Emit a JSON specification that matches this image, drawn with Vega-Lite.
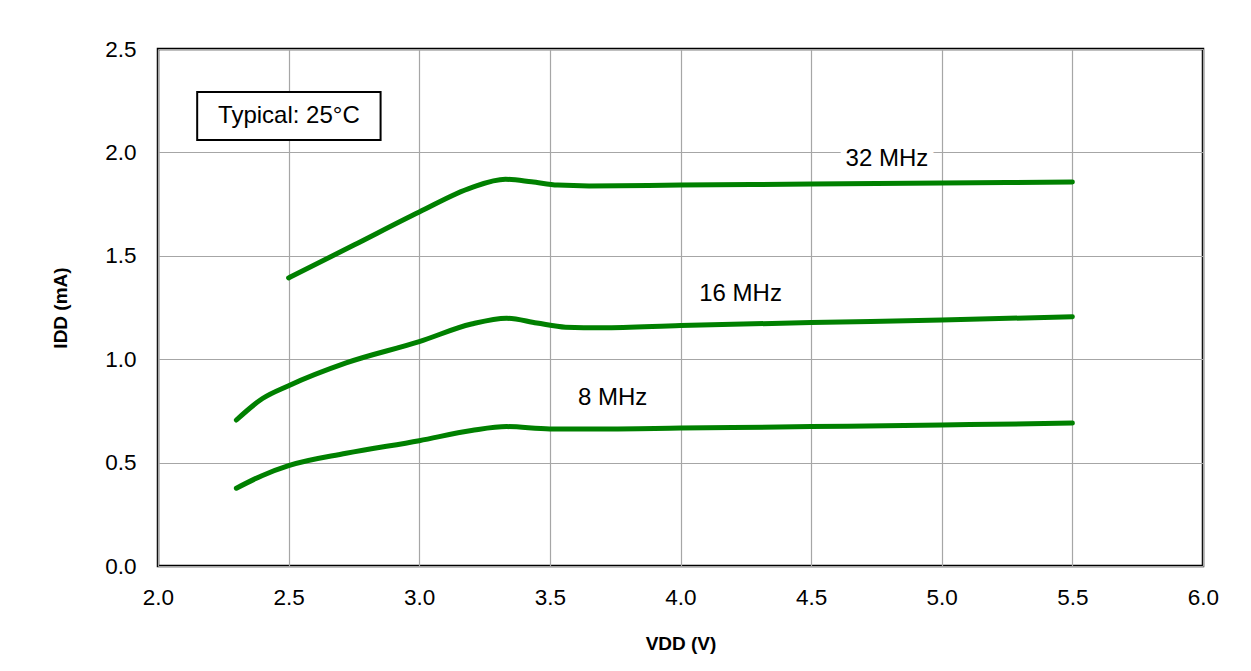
{
  "$schema": "https://vega.github.io/schema/vega-lite/v6.json",
  "width": 1045,
  "height": 517,
  "autosize": {"type": "none"},
  "padding": {"left": 158, "top": 49, "right": 48, "bottom": 105},
  "background": "white",
  "config": {
    "font": "Liberation Sans",
    "view": {"stroke": "black", "strokeWidth": 2.5},
    "axis": {
      "domain": false,
      "ticks": false,
      "grid": true,
      "gridColor": "#a6a6a6",
      "gridWidth": 1.2,
      "gridOpacity": 1,
      "labelFlush": false,
      "labelOverlap": false,
      "labelFont": "Liberation Sans",
      "labelFontSize": 22.5,
      "labelColor": "black",
      "titleFont": "Liberation Sans",
      "titleFontSize": 19,
      "titleFontWeight": "bold",
      "titleColor": "black"
    }
  },
  "datasets": {
    "curves": [
      {"series": "32 MHz", "v": 2.5, "i": 1.393},
      {"series": "32 MHz", "v": 2.75, "i": 1.552},
      {"series": "32 MHz", "v": 3.0, "i": 1.712},
      {"series": "32 MHz", "v": 3.2, "i": 1.83},
      {"series": "32 MHz", "v": 3.33, "i": 1.870},
      {"series": "32 MHz", "v": 3.43, "i": 1.858},
      {"series": "32 MHz", "v": 3.53, "i": 1.842},
      {"series": "32 MHz", "v": 3.65, "i": 1.838},
      {"series": "32 MHz", "v": 4.0, "i": 1.842},
      {"series": "32 MHz", "v": 4.5, "i": 1.847},
      {"series": "32 MHz", "v": 5.0, "i": 1.852},
      {"series": "32 MHz", "v": 5.5, "i": 1.857},
      {"series": "16 MHz", "v": 2.3, "i": 0.706},
      {"series": "16 MHz", "v": 2.4, "i": 0.81},
      {"series": "16 MHz", "v": 2.5, "i": 0.872},
      {"series": "16 MHz", "v": 2.72, "i": 0.982},
      {"series": "16 MHz", "v": 3.0, "i": 1.085},
      {"series": "16 MHz", "v": 3.2, "i": 1.17},
      {"series": "16 MHz", "v": 3.335, "i": 1.198},
      {"series": "16 MHz", "v": 3.45, "i": 1.175},
      {"series": "16 MHz", "v": 3.56, "i": 1.155},
      {"series": "16 MHz", "v": 3.7, "i": 1.152},
      {"series": "16 MHz", "v": 4.0, "i": 1.163},
      {"series": "16 MHz", "v": 4.5, "i": 1.177},
      {"series": "16 MHz", "v": 5.0, "i": 1.19},
      {"series": "16 MHz", "v": 5.5, "i": 1.205},
      {"series": "8 MHz", "v": 2.3, "i": 0.376},
      {"series": "8 MHz", "v": 2.4, "i": 0.438},
      {"series": "8 MHz", "v": 2.5, "i": 0.485},
      {"series": "8 MHz", "v": 2.72, "i": 0.545},
      {"series": "8 MHz", "v": 3.0, "i": 0.606},
      {"series": "8 MHz", "v": 3.2, "i": 0.655},
      {"series": "8 MHz", "v": 3.335, "i": 0.674},
      {"series": "8 MHz", "v": 3.5, "i": 0.663},
      {"series": "8 MHz", "v": 3.7, "i": 0.663},
      {"series": "8 MHz", "v": 4.0, "i": 0.667},
      {"series": "8 MHz", "v": 4.5, "i": 0.674},
      {"series": "8 MHz", "v": 5.0, "i": 0.682},
      {"series": "8 MHz", "v": 5.5, "i": 0.691}
    ],
    "labels": [
      {"label": "32 MHz", "v": 4.79, "i": 1.97},
      {"label": "16 MHz", "v": 4.23, "i": 1.313},
      {"label": "8 MHz", "v": 3.74, "i": 0.81}
    ],
    "note": [
      {"label": "Typical: 25°C", "v1": 2.15, "v2": 2.852, "i1": 2.06, "i2": 2.292, "v": 2.501, "i": 2.176}
    ]
  },
  "layer": [
    {
      "data": {"name": "curves"},
      "mark": {"type": "line", "interpolate": "monotone", "color": "#008000", "strokeWidth": 5, "strokeCap": "round", "strokeJoin": "round"},
      "encoding": {
        "x": {
          "field": "v", "type": "quantitative",
          "scale": {"domain": [2, 6], "nice": false, "zero": false},
          "axis": {"values": [2, 2.5, 3, 3.5, 4, 4.5, 5, 5.5, 6], "format": ".1f", "labelPadding": 20, "title": "VDD (V)", "titlePadding": 26}
        },
        "y": {
          "field": "i", "type": "quantitative",
          "scale": {"domain": [0, 2.5], "nice": false},
          "axis": {"values": [0, 0.5, 1, 1.5, 2, 2.5], "format": ".1f", "labelPadding": 22, "title": "IDD (mA)", "titlePadding": 34}
        },
        "detail": {"field": "series", "type": "nominal"}
      }
    },
    {
      "data": {"name": "labels"},
      "mark": {"type": "text", "fontSize": 24, "font": "Liberation Sans", "stroke": "white", "strokeWidth": 12, "color": "white"},
      "encoding": {
        "x": {"field": "v", "type": "quantitative"},
        "y": {"field": "i", "type": "quantitative"},
        "text": {"field": "label"}
      }
    },
    {
      "data": {"name": "labels"},
      "mark": {"type": "text", "fontSize": 24, "font": "Liberation Sans", "color": "black"},
      "encoding": {
        "x": {"field": "v", "type": "quantitative"},
        "y": {"field": "i", "type": "quantitative"},
        "text": {"field": "label"}
      }
    },
    {
      "data": {"name": "note"},
      "mark": {"type": "rect", "fill": "white", "stroke": "black", "strokeWidth": 2},
      "encoding": {
        "x": {"field": "v1", "type": "quantitative"},
        "x2": {"field": "v2"},
        "y": {"field": "i1", "type": "quantitative"},
        "y2": {"field": "i2"}
      }
    },
    {
      "data": {"name": "note"},
      "mark": {"type": "text", "fontSize": 24, "font": "Liberation Sans", "color": "black"},
      "encoding": {
        "x": {"field": "v", "type": "quantitative"},
        "y": {"field": "i", "type": "quantitative"},
        "text": {"field": "label"}
      }
    }
  ]
}
